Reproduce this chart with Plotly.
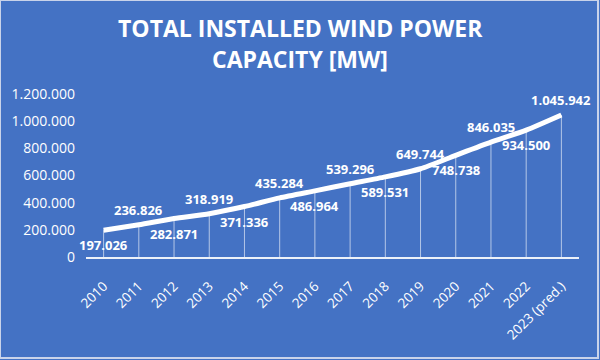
import plotly.graph_objects as go

years = ["2010", "2011", "2012", "2013", "2014", "2015", "2016", "2017",
         "2018", "2019", "2020", "2021", "2022", "2023 (pred.)"]
capacity_mw = [197026, 236826, 282871, 318919, 371336, 435284, 486964, 539296,
               589531, 649744, 748738, 846035, 934500, 1045942]
label_side = [-1, 1] * 7   # -1 below the point, +1 above

y_ticks = [0, 200000, 400000, 600000, 800000, 1000000, 1200000]

BG = "#4472C4"
FONT = "Open Sans"

# plot area in pixels
L, R, T, B = 86, 21, 94, 103
PH = 360 - T - B
PW = 600 - L - R

fig = go.Figure()
fig.add_trace(go.Scatter(
    x=years,
    y=capacity_mw,
    mode="lines",
    line=dict(color="white", width=5, shape="spline", smoothing=0.6),
    cliponaxis=False,
    error_y=dict(type="data", symmetric=False,
                 array=[0] * len(capacity_mw), arrayminus=capacity_mw,
                 width=0, thickness=1, color="rgba(255,255,255,0.6)"),
    hoverinfo="skip",
))

annotations = []
for i, (v, side) in enumerate(zip(capacity_mw, label_side)):
    annotations.append(dict(
        x=i, y=v, xref="x", yref="y",
        text=f"{v:,}".replace(",", "."),
        showarrow=False, xanchor="center", yanchor="middle",
        yshift=15 * side,
        font=dict(family=FONT, size=13, color="white", weight="bold"),
    ))

title_font = dict(family=FONT, size=23, color="white", weight="bold")
for txt, py in [("TOTAL INSTALLED WIND POWER", 28), ("CAPACITY [MW]", 59)]:
    annotations.append(dict(
        x=(300 - L) / PW, xref="paper", xanchor="center",
        y=(360 - B - py) / PH, yref="paper", yanchor="middle",
        text=txt, showarrow=False, font=title_font,
    ))

fig.update_layout(
    width=600, height=360,
    paper_bgcolor=BG, plot_bgcolor=BG,
    separators=",.",
    margin=dict(l=L, r=R, t=T, b=B, autoexpand=False),
    showlegend=False,
    xaxis=dict(
        type="category", automargin=False,
        range=[-0.5, len(years) - 0.5],
        showgrid=False, zeroline=False,
        showline=True, linecolor="rgba(255,255,255,0.9)", linewidth=2,
        tickangle=-45,
        tickfont=dict(family=FONT, size=13.5, color="white"),
        ticks="", ticklabelstandoff=14,
    ),
    yaxis=dict(
        range=[0, 1200000], automargin=False,
        tickvals=y_ticks,
        tickformat=",",
        showgrid=False, zeroline=False, showline=False,
        tickfont=dict(family=FONT, size=14, color="white"),
        ticks="", ticklabelstandoff=10,
    ),
    annotations=annotations,
    shapes=[dict(type="rect", xref="paper", yref="paper",
                 x0=-L / PW, x1=1 + (R - 2) / PW, y0=-(B - 2) / PH, y1=1 + T / PH,
                 line=dict(color="#C9D3EA", width=2), layer="above")],
)

fig.write_html("out.html",
               config={"displayModeBar": False},
               post_script="document.body.style.margin='0';"
                           "document.body.style.overflow='hidden';")
